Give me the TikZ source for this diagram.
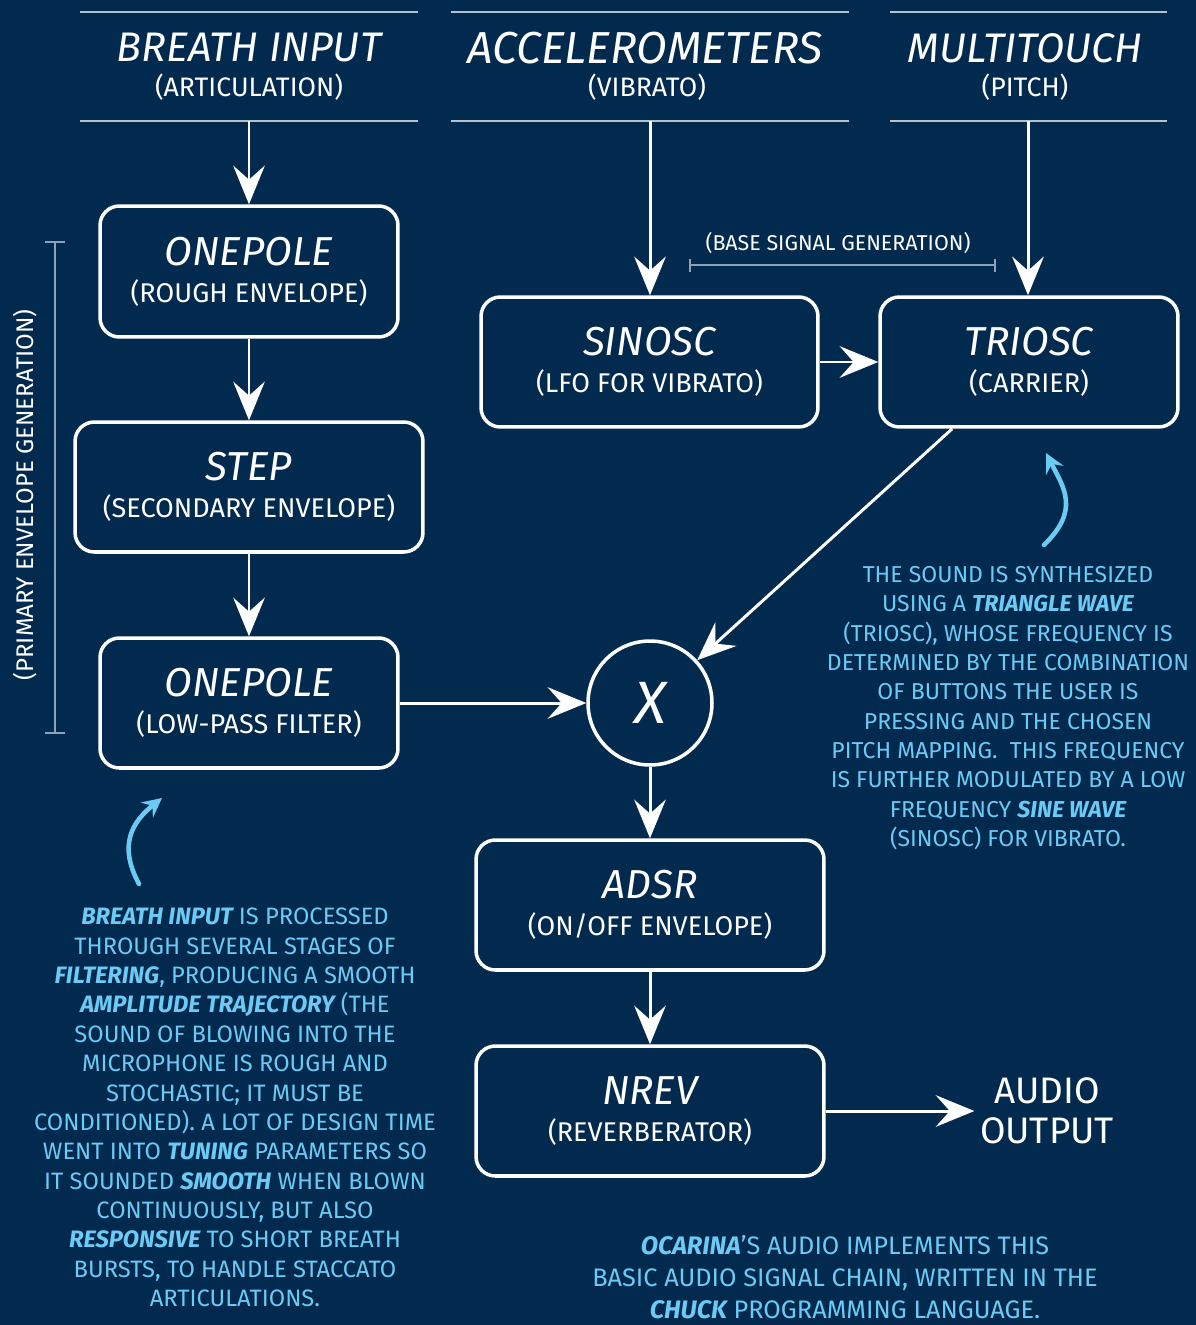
\documentclass[tikz,border=0pt]{standalone}
\usepackage{fontspec}
\setmainfont{Fira Sans}
\usetikzlibrary{arrows.meta}
\definecolor{bg}{HTML}{022A4F}
\definecolor{lb}{HTML}{6CCBF5}
\definecolor{rulec}{HTML}{B4C2D0}
\definecolor{brk}{HTML}{8DA3BA}
\tikzset{
  box/.style={draw=white, line width=2pt, rounded corners=11pt, align=center, text=white,
    minimum height=2.6cm, inner sep=0pt,
    font=\fontsize{22}{21}\selectfont},
  arr/.style={draw=white, line width=1.7pt, -{Stealth[length=22pt,width=18pt,inset=8pt]}},
  curv/.style={draw=lb, line width=2.6pt, line cap=round, -{Stealth[length=11pt,width=11pt,inset=4pt]}},
  rulel/.style={draw=rulec, line width=1.1pt},
  brkl/.style={draw=brk, line width=0.6pt},
  hdr/.style={text=white, font=\fontsize{23.5}{23.5}\selectfont\itshape, inner sep=0pt},
  hsub/.style={text=white, font=\fontsize{15.2}{16}\selectfont, inner sep=0pt},
  note/.style={text=lb, align=center, inner sep=0pt, font=\fontsize{13.5}{16.7}\selectfont},
}
\newcommand{\bt}[1]{{\fontsize{23}{21}\selectfont\itshape #1}}
\newcommand{\st}[1]{{\fontsize{15.4}{21}\selectfont #1}}
\newcommand{\emw}[1]{{\bfseries\itshape #1}}
\begin{document}
\begin{tikzpicture}[x=0.02cm,y=-0.02cm]
\fill[bg] (0,0) rectangle (1196,1325);
\useasboundingbox (0,0) rectangle (1196,1325);

% header rules
\draw[rulel] (80,12) -- (418,12);  \draw[rulel] (80,121) -- (418,121);
\draw[rulel] (451,12) -- (849,12); \draw[rulel] (451,121) -- (849,121);
\draw[rulel] (890,12) -- (1167,12); \draw[rulel] (890,121) -- (1167,121);

% headers
\node[hdr] (h1) at (249,48) {BREATH INPUT};
\node[hsub] (s1) at (249,87) {(ARTICULATION)};
\node[hdr, font=\fontsize{25.5}{25.5}\selectfont\itshape] (h2) at (645,48) {ACCELEROMETERS};
\node[hsub] (s2) at (647,87) {(VIBRATO)};
\node[hdr] (h3) at (1025,48) {MULTITOUCH};
\node[hsub] (s3) at (1025,87) {(PITCH)};
\coordinate (c1) at (249,121);
\coordinate (c2) at (650,121);
\coordinate (c3) at (1028,121);

% boxes
\node[box, minimum width=5.96cm, minimum height=2.62cm] (op1) at (249,271.5) {\bt{ONEPOLE}\\\st{(ROUGH ENVELOPE)}};
\node[box, minimum width=6.96cm] (step) at (249,487) {\bt{STEP}\\\st{(SECONDARY ENVELOPE)}};
\node[box, minimum width=5.96cm] (op2) at (249,703) {\bt{ONEPOLE}\\\st{(LOW-PASS FILTER)}};
\node[box, minimum width=6.74cm] (sin) at (649.5,362) {\bt{SINOSC}\\\st{(LFO FOR VIBRATO)}};
\node[box, minimum width=5.96cm] (tri) at (1029,362) {\bt{TRIOSC}\\\st{(CARRIER)}};
\node[box, minimum width=6.96cm] (adsr) at (650,905) {\bt{ADSR}\\\st{(ON/OFF ENVELOPE)}};
\node[box, minimum width=6.96cm] (nrev) at (650,1111) {\bt{NREV}\\\st{(REVERBERATOR)}};
\node[draw=white, line width=2pt, circle, minimum size=2.48cm, inner sep=0pt, text=white,
  font=\fontsize{34}{34}\selectfont\itshape] (mul) at (650,703) {X};
\node[text=white, align=center, inner sep=3pt, font=\fontsize{21}{22.5}\selectfont] (aout) at (1047,1111) {AUDIO\\OUTPUT};

% connectors
\draw[arr] (c1) -- (op1.north);
\draw[arr] (op1.south) -- (step.north);
\draw[arr] (step.south) -- (op2.north);
\draw[arr] (op2.east) -- (mul.west);
\draw[arr] (c2) -- (c2 |- sin.north);
\draw[arr] (c3) -- (c3 |- tri.north);
\draw[arr] (sin.east) -- (tri.west);
\draw[arr] (tri.221) -- (mul);
\draw[arr] (mul.south) -- (adsr.north);
\draw[arr] (adsr.south) -- (nrev.north);
\draw[arr] (nrev.east) -- (aout.west);

% brackets
\draw[brkl] (690,265) -- (995,265);
\draw[brkl] (690,259) -- (690,272);
\draw[brkl] (995,259) -- (995,272);
\node[text=white, inner sep=0pt, font=\fontsize{12.2}{12}\selectfont] (bsg) at (838,243) {(BASE SIGNAL GENERATION)};
\draw[brkl] (55,242) -- (55,733);
\draw[brkl] (45,242) -- (65,242);
\draw[brkl] (45,733) -- (65,733);
\node[text=white, inner sep=0pt, rotate=90, font=\fontsize{13.7}{13}\selectfont] (peg) at (25,495) {(PRIMARY ENVELOPE GENERATION)};

% curved pointers
\coordinate (p1s) at (139,884);
\coordinate (p1e) at (162,798);
\draw[curv] (p1s) .. controls (118,845) and (132,822) .. (p1e);
\coordinate (p2s) at (1044,545);
\coordinate (p2e) at (1046,453);
\draw[curv] (p2s) .. controls (1080,510) and (1064,488) .. (p2e);

% notes
\node[note] (n1) at (235,1107.5) {\emw{BREATH INPUT} IS PROCESSED\\
THROUGH SEVERAL STAGES OF\\
\emw{FILTERING}, PRODUCING A SMOOTH\\
\emw{AMPLITUDE TRAJECTORY} (THE\\
SOUND OF BLOWING INTO THE\\
MICROPHONE IS ROUGH AND\\
STOCHASTIC; IT MUST BE\\
CONDITIONED). A LOT OF DESIGN TIME\\
WENT INTO \emw{TUNING} PARAMETERS SO\\
IT SOUNDED \emw{SMOOTH} WHEN BLOWN\\
CONTINUOUSLY, BUT ALSO\\
\emw{RESPONSIVE} TO SHORT BREATH\\
BURSTS, TO HANDLE STACCATO\\
ARTICULATIONS.};
\node[note, font=\fontsize{13.1}{16.7}\selectfont] (n2) at (1008,708) {THE SOUND IS SYNTHESIZED\\
USING A \emw{TRIANGLE WAVE}\\
(TRIOSC), WHOSE FREQUENCY IS\\
DETERMINED BY THE COMBINATION\\
OF BUTTONS THE USER IS\\
PRESSING AND THE CHOSEN\\
PITCH MAPPING.\ \ THIS FREQUENCY\\
IS FURTHER MODULATED BY A LOW\\
FREQUENCY \emw{SINE WAVE}\\
(SINOSC) FOR VIBRATO.};
\node[note, font=\fontsize{14.4}{18.2}\selectfont] (n3) at (845,1277) {\emw{OCARINA}'S AUDIO IMPLEMENTS THIS\\
BASIC AUDIO SIGNAL CHAIN, WRITTEN IN THE\\
\emw{CHUCK} PROGRAMMING LANGUAGE.};
\end{tikzpicture}
\end{document}
